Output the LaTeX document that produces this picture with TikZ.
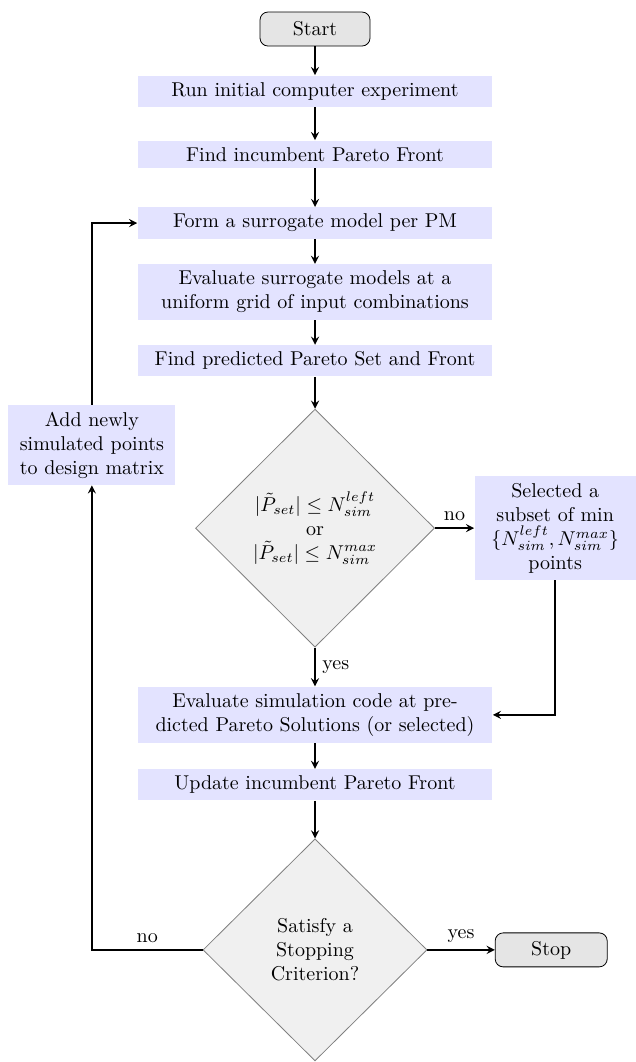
\documentclass[tikz,border=0pt]{standalone}
\usepackage{amsmath}
\usepackage{amsfonts}
\usetikzlibrary{shapes.geometric}

\begin{document}
\begin{tikzpicture}[>=stealth,
    term/.style={draw, rounded corners, fill=gray!20, minimum width=55pt, minimum height=17pt},
    proc/.style={fill=blue!11, text width=6cm, align=center},
    side/.style={fill=blue!11, align=center},
    decide/.style={diamond, draw=gray, fill=gray!12, align=center, inner sep=0pt},
    line/.style={thick, ->}]
      \useasboundingbox (-5.535, 0.51) rectangle (5.623, -18.15);
      \node[term] (start) at (0, 0) {Start};
      \node[proc] (run) at (0, -1.09) {Run initial computer experiment};
      \node[proc] (inc) at (0, -2.20) {Find incumbent Pareto Front};
      \node[proc] (sur) at (0, -3.41) {Form a surrogate model per PM};
      \node[proc] (eval) at (0, -4.62) {Evaluate surrogate models at a uniform grid of input combinations};
      \node[proc] (pred) at (0, -5.83) {Find predicted Pareto Set and Front};
      \node[decide, minimum width=119.5pt, minimum height=119pt] (chk) at (0, -8.77)
        {$|\tilde{P}_{set}| \leq N_{sim}^{left}$\\or\\$|\tilde{P}_{set}| \leq N_{sim}^{max}$};
      \node[side, text width=2.6cm] (sel) at (4.22, -8.77)
        {Selected a subset of min $\{N_{sim}^{left}, N_{sim}^{max}\}$ points};
      \node[side, text width=2.7cm] (add) at (-3.92, -7.31) {Add newly simulated points to design matrix};
      \node[proc] (sim) at (0, -12.05) {Evaluate simulation code at predicted Pareto Solutions (or selected)};
      \node[proc] (upd) at (0, -13.28) {Update incumbent Pareto Front};
      \node[decide, minimum width=112pt, minimum height=111pt] (stp) at (0, -16.18)
        {Satisfy a\\Stopping\\Criterion?};
      \node[term, minimum width=56pt] (stop) at (4.15, -16.18) {Stop};
      \draw[line] (start) -- (run);
      \draw[line] (run) -- (inc);
      \draw[line] (inc) -- (sur);
      \draw[line] (sur) -- (eval);
      \draw[line] (eval) -- (pred);
      \draw[line] (pred) -- (chk);
      \draw[line] (chk) -- node[above] {no} (sel);
      \draw[line] (chk) -- node[right] {yes} (sim);
      \draw[line] (sel.south) |- (sim.east);
      \draw[line] (sim) -- (upd);
      \draw[line] (upd) -- (stp);
      \draw[line] (stp) -- node[above] {yes} (stop);
      \draw[line] (stp.west) -| node[above, pos=0.25] {no} (add.south);
      \draw[line] (add.north) |- (sur.west);
    \end{tikzpicture}
\end{document}
